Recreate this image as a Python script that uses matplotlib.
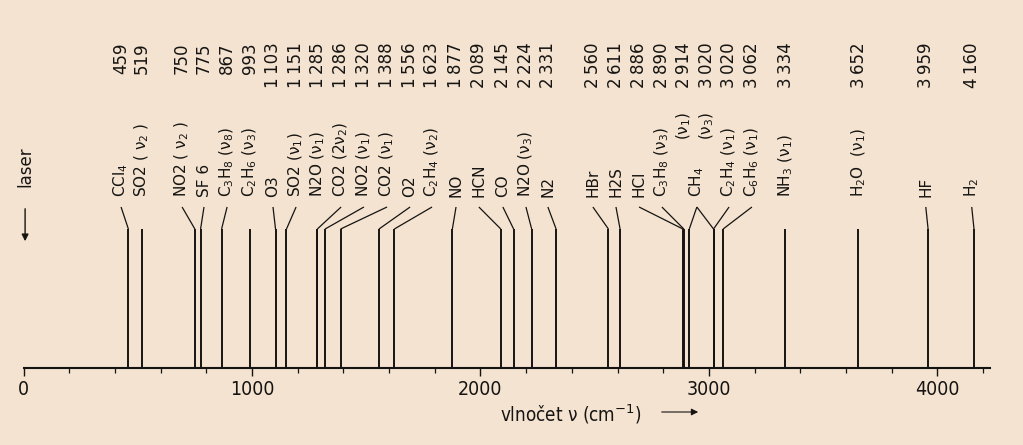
import matplotlib
matplotlib.use("Agg")
import matplotlib.pyplot as plt
from matplotlib.ticker import MultipleLocator

OUT_PATH = "out.png"
BG = "#f3e3d0"
INK = "#161412"

# wavenumbers of the absorption lines (cm-1), one per vertical line
wavenumbers = [459, 519, 750, 775, 867, 993, 1103, 1151, 1285, 1286, 1320,
               1388, 1556, 1623, 1877, 2089, 2145, 2224, 2331, 2560, 2611,
               2886, 2890, 2914, 3020, 3020, 3062, 3334, 3652, 3959, 4160]

molecules = ["CCl$_4$", "SO2 ( ν$_2$ )", "NO2 ( ν$_2$ )", "SF 6",
             "C$_3$H$_8$ (ν$_8$)", "C$_2$H$_6$ (ν$_3$)", "O3", "SO2 (ν$_1$)",
             "N2O (ν$_1$)", "CO2 (2ν$_2$)", "NO2 (ν$_1$)", "CO2 (ν$_1$)",
             "O2", "C$_2$H$_4$ (ν$_2$)", "NO", "HCN", "CO", "N2O (ν$_3$)",
             "N2", "HBr", "H2S", "HCl", "C$_3$H$_8$ (ν$_3$)",
             "(ν$_1$)", "(ν$_3$)", "C$_2$H$_4$ (ν$_1$)", "C$_6$H$_6$ (ν$_1$)",
             "NH$_3$ (ν$_1$)", "H$_2$O  (ν$_1$)", "HF", "H$_2$"]

# layout: where each text column sits and where its leader line ends (cm-1)
text_x = [427, 519, 694, 790, 891, 991, 1092, 1193, 1289, 1390, 1490,
          1591, 1692, 1788, 1893, 1993, 2098, 2199, 2295, 2492, 2593,
          2694, 2794, 2890, 2991, 3088, 3188, 3337, 3656, 3949, 4150]
leader_x = list(text_x)
leader_x[23] = leader_x[24] = 2947  # both CH4 lines point at one label

BASE = 368      # baseline, pixels from top of figure
LINE_TOP = 139  # heights above baseline (pixels)
LEAD_TOP = 161
LABEL_Y = 171
MODE_Y = 228
NUM_Y = 326
NARROW = dict(family="DejaVu Sans", stretch="condensed")


def fmt(v):
    s = str(v)
    return s if len(s) < 4 else s[:-3] + "\u2009" + s[-3:]


def main():
    fig = plt.figure(figsize=(10.23, 4.45), dpi=100, facecolor=BG)
    ax = fig.add_axes([23.5 / 1023, (445 - BASE) / 445,
                       (990 - 23.5) / 1023, BASE / 445])
    ax.set_facecolor(BG)
    ax.set_xlim(0, 4230)
    ax.set_ylim(0, BASE)

    for side in ["top", "left", "right"]:
        ax.spines[side].set_visible(False)
    ax.spines["bottom"].set_linewidth(1.5)
    ax.spines["bottom"].set_color(INK)
    ax.set_yticks([])
    ax.xaxis.set_major_locator(MultipleLocator(1000))
    ax.xaxis.set_minor_locator(MultipleLocator(200))
    ax.tick_params(axis="x", which="major", direction="out", length=5.5,
                   width=1.0, color=INK, pad=3, labelcolor=INK)
    ax.tick_params(axis="x", which="minor", direction="out", length=3.5,
                   width=0.9, color=INK)
    for lab in ax.get_xticklabels():
        lab.set_fontproperties(dict(NARROW, size=14))

    ax.vlines(wavenumbers, 0, LINE_TOP, color=INK, lw=1.4)

    for w, tx, lx, name in zip(wavenumbers, text_x, leader_x, molecules):
        if abs(lx - w) > 8 or name.startswith("("):
            ax.plot([w, lx], [LINE_TOP, LEAD_TOP], color=INK, lw=0.9,
                    solid_capstyle="butt")
        y = MODE_Y if name.startswith("(") else LABEL_Y
        ax.text(tx, y, name, rotation=90, ha="center", va="bottom",
                fontsize=11, color=INK)
        ax.text(tx, NUM_Y, fmt(w), rotation=90, ha="center", va="top",
                fontsize=12, color=INK)
    ax.text(2947, LABEL_Y, "CH$_4$", rotation=90, ha="center",
            va="bottom", fontsize=11, color=INK)

    # laser marker on the left
    ax.text(7, 201, "laser", rotation=90, ha="center", va="center",
            fontsize=12, color=INK)
    ax.annotate("", xy=(7, 124), xytext=(7, 162),
                arrowprops=dict(arrowstyle="-|>", color=INK, lw=1.0,
                                mutation_scale=10))

    ax.set_xlabel("vlnočet ν (cm$^{-1}$)", color=INK,
                  fontproperties=dict(NARROW, size=13.5))
    ax.xaxis.set_label_coords(0.5665, -0.095)
    ax.annotate("", xy=(2965, -44), xytext=(2781, -44),
                annotation_clip=False,
                arrowprops=dict(arrowstyle="-|>", color=INK, lw=0.8,
                                mutation_scale=10))

    fig.savefig(OUT_PATH, dpi=100, facecolor=BG)
    plt.close(fig)


if __name__ == "__main__":
    main()
